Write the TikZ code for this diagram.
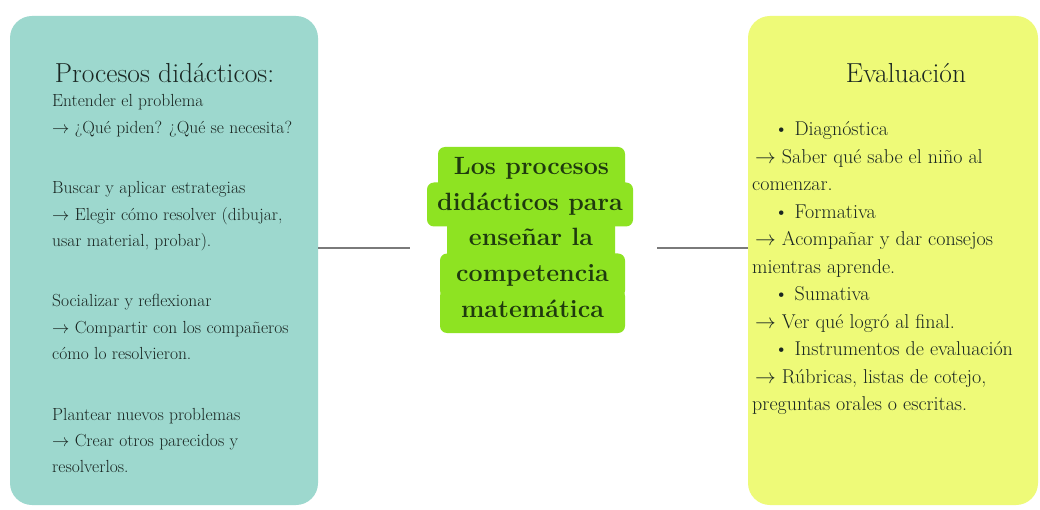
\documentclass[tikz,border=0pt]{standalone}
\usepackage{fontspec}
\definecolor{tealbox}{HTML}{9DD8CE}
\definecolor{limebox}{HTML}{EEFA78}
\definecolor{greenhl}{HTML}{8EE322}
\definecolor{inkgreen}{HTML}{1F3A0E}
\definecolor{ink}{HTML}{1A2622}
\definecolor{linkgray}{HTML}{7A7A7A}
\begin{document}
\begin{tikzpicture}[x=1pt,y=1pt,
  panel/.style={rounded corners=22pt,inner sep=0pt,minimum height=489pt},
  hl/.style={fill=greenhl,rounded corners=7pt,inner sep=0pt,minimum height=44pt,
    text height=18pt,text depth=6pt,text=inkgreen,font=\bfseries\fontsize{25}{29}\selectfont},
  titulo/.style={text=ink,inner sep=0pt,font=\fontsize{27.5}{31}\selectfont},
  cuerpo/.style={anchor=north west,align=left,inner sep=0pt,text=ink},
  link/.style={draw=linkgray,line width=1.1pt}]
\useasboundingbox (0,0) rectangle (1040,509);
\fill[white] (0,0) rectangle (1040,509);
\node[panel,fill=tealbox,minimum width=308pt] (procesos) at (164,248.5) {};
\node[panel,fill=limebox,minimum width=290pt] (eval) at (893,248.5) {};
\node[titulo] (tproc) at (164.5,436) {Procesos didácticos:};
\node[titulo] (teval) at (906,436) {Evaluación};
\node[cuerpo,font=\fontsize{17.5}{26.4}\selectfont] (pasos) at (52,414.5) {%
Entender el problema\\
$\rightarrow$ ¿Qué piden? ¿Qué se necesita?\\[34pt]
Buscar y aplicar estrategias\\
$\rightarrow$ Elegir cómo resolver (dibujar,\\
usar material, probar).\\[34pt]
Socializar y reflexionar\\
$\rightarrow$ Compartir con los compañeros\\
cómo lo resolvieron.\\[34pt]
Plantear nuevos problemas\\
$\rightarrow$ Crear otros parecidos y\\
resolverlos.};
\node[cuerpo,font=\fontsize{20}{27.5}\selectfont] (tipos) at (752,387.5) {%
\hspace*{22pt}\textbullet\hspace{6pt}Diagnóstica\\
\hspace*{3pt}$\rightarrow$ Saber qué sabe el niño al\\
comenzar.\\
\hspace*{22pt}\textbullet\hspace{6pt}Formativa\\
\hspace*{3pt}$\rightarrow$ Acompañar y dar consejos\\
mientras aprende.\\
\hspace*{22pt}\textbullet\hspace{6pt}Sumativa\\
\hspace*{3pt}$\rightarrow$ Ver qué logró al final.\\
\hspace*{22pt}\textbullet\hspace{6pt}Instrumentos de evaluación\\
\hspace*{3pt}$\rightarrow$ Rúbricas, listas de cotejo,\\
preguntas orales o escritas.};
% titulo central, una franja por linea
\node[hl,minimum width=187pt] (l1) at (531.5,340) {Los procesos};
\node[hl,minimum width=206pt] (l2) at (530,304.5) {didácticos para};
\node[hl,minimum width=168pt] (l3) at (531,269) {enseñar la};
\node[hl,minimum width=185pt] (l4) at (532.5,233.5) {competencia};
\node[hl,minimum width=185pt] (l5) at (532.5,198) {matemática};
\coordinate (eje) at (0,261);
\draw[link,shorten >=17pt] (procesos.east |- eje) -- (l2.west |- eje);
\draw[link,shorten <=24pt] (l2.east |- eje) -- (eval.west |- eje);
\end{tikzpicture}
\end{document}
